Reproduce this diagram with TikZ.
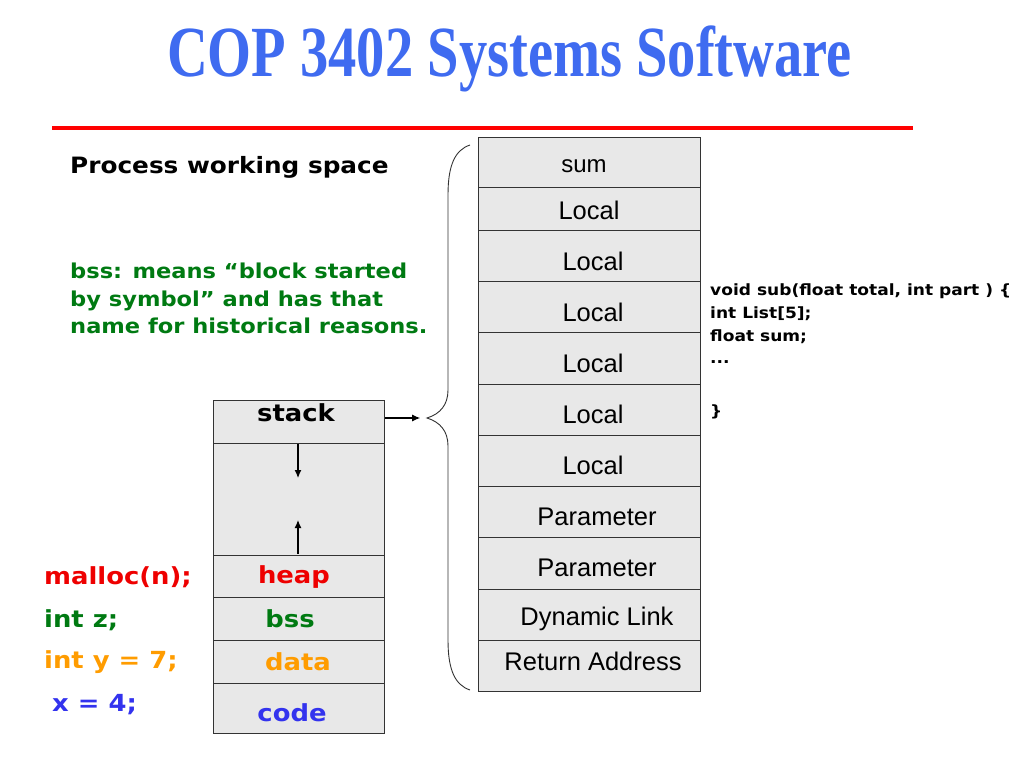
\documentclass[tikz,border=0pt]{standalone}
\usepackage{fontspec}
\usepackage{graphicx}
\newfontfamily\vfont{DejaVu Sans}[FakeStretch=1.1]
\newfontfamily\afont{Liberation Sans}
\newfontfamily\tfont{Liberation Serif}
\definecolor{titleblue}{HTML}{3F6BF0}
\definecolor{cellgray}{HTML}{E8E8E8}
\definecolor{myred}{HTML}{EE0000}
\definecolor{mygreen}{HTML}{007A12}
\definecolor{myorange}{HTML}{FF9C00}
\definecolor{myblue}{HTML}{3333EE}
\definecolor{linegray}{HTML}{333333}
\usetikzlibrary{arrows.meta}
\tikzset{
  lcell/.style={draw=linegray, line width=1.2pt, fill=cellgray, minimum width=171pt, inner sep=0pt, anchor=north west},
  rcell/.style={draw=linegray, line width=1.2pt, fill=cellgray, minimum width=222pt, inner sep=0pt, anchor=north west},
  vtxt/.style={font=\vfont\bfseries\fontsize{23.5}{27}\selectfont, inner sep=0pt},
  atxt/.style={font=\afont\fontsize{25.5}{29}\selectfont, inner sep=0pt, text=black},
  ctxt/.style={font=\vfont\bfseries\fontsize{15.5}{18}\selectfont, inner sep=0pt, anchor=west},
  arr/.style={-{Latex[length=8pt,width=7pt]}, line width=1.2pt},
}
\begin{document}
\begin{tikzpicture}[x=1pt,y=-1pt]
\useasboundingbox (0,0) rectangle (1024,768);
% title
\node[text=titleblue, inner sep=0pt] (title) at (509.5,59) {\resizebox{685pt}{\height}{\tfont\bfseries\fontsize{72}{80}\selectfont COP 3402 Systems Software}};
\coordinate (rl1) at (52,128);
\coordinate (rl2) at (913,128);
\draw[line width=4.5pt, draw=red] (rl1) -- (rl2);
% left heading texts
\node[font=\vfont\bfseries\fontsize{22.5}{26}\selectfont, anchor=west, inner sep=0pt] (pws) at (70,167) {Process working space};
\node[font=\vfont\bfseries\fontsize{20.5}{27.5}\selectfont, anchor=north west, inner sep=0pt, text=mygreen, align=left] (bssnote) at (70,263) {bss: means “block started\\by symbol” and has that\\name for historical reasons.};
% left block
\node[lcell, minimum height=43pt] (stack) at (213,400) {};
\node[lcell, minimum height=112pt] (gap) at (213,443) {};
\node[lcell, minimum height=42pt] (heap) at (213,555) {};
\node[lcell, minimum height=43pt] (bss) at (213,597) {};
\node[lcell, minimum height=43pt] (data) at (213,640) {};
\node[lcell, minimum height=50pt] (code) at (213,683) {};
\node[vtxt] (stackt) at (296,413) {stack};
\node[vtxt, text=myred] (heapt) at (294,577) {heap};
\node[vtxt, text=mygreen] (bsst) at (290,619) {bss};
\node[vtxt, text=myorange] (datat) at (298,662) {data};
\node[vtxt, text=myblue] (codet) at (292,713) {code};
\coordinate (d1) at (298,444);
\coordinate (d2) at (298,478);
\coordinate (u1) at (298,554);
\coordinate (u2) at (298,520);
\draw[arr] (d1) -- (d2);
\draw[arr] (u1) -- (u2);
% left labels
\node[vtxt, anchor=west, text=myred] (mal) at (44,577) {malloc(n);};
\node[vtxt, anchor=west, text=mygreen] (intz) at (44,620) {int z;};
\node[vtxt, anchor=west, text=myorange] (inty) at (44,662) {int y = 7;};
\node[vtxt, anchor=west, text=myblue] (x4) at (52,705) {x = 4;};
% right column
\node[rcell, minimum height=50pt] (r1) at (478,137) {};
\node[rcell, minimum height=43pt] (r2) at (478,187) {};
\node[rcell, minimum height=51pt] (r3) at (478,230) {};
\node[rcell, minimum height=51pt] (r4) at (478,281) {};
\node[rcell, minimum height=52pt] (r5) at (478,332) {};
\node[rcell, minimum height=51pt] (r6) at (478,384) {};
\node[rcell, minimum height=51pt] (r7) at (478,435) {};
\node[rcell, minimum height=51pt] (r8) at (478,486) {};
\node[rcell, minimum height=52pt] (r9) at (478,537) {};
\node[rcell, minimum height=51pt] (r10) at (478,589) {};
\node[rcell, minimum height=51pt] (r11) at (478,640) {};
\node[atxt, font=\afont\fontsize{24}{28}\selectfont] (t1) at (584,166) {sum};
\node[atxt] (t2) at (589,210) {Local};
\node[atxt] (t3) at (593,261) {Local};
\node[atxt] (t4) at (593,312) {Local};
\node[atxt] (t5) at (593,363) {Local};
\node[atxt] (t6) at (593,414) {Local};
\node[atxt] (t7) at (593,465) {Local};
\node[atxt] (t8) at (597,517) {Parameter};
\node[atxt] (t9) at (597,568) {Parameter};
\node[atxt] (t10) at (597,619) {Dynamic Link};
\node[atxt] (t11) at (593,661) {Return Address};
% arrow from stack to brace
\coordinate (bt) at (427,418);
\draw[arr] (stack.east |- 0,418) -- ++(35,0) coordinate (ae);
% brace
\coordinate (btop) at (470,145);
\coordinate (bbot) at (470,690);
\draw[line width=0.9pt, draw=linegray] (btop) .. controls (455,150) and (448,165) .. (448,195)
  -- (448,390) .. controls (448,405) and (440,414) .. (bt)
  .. controls (440,422) and (448,431) .. (448,446)
  -- (448,640) .. controls (448,670) and (455,685) .. (bbot);
% code text
\node[ctxt] (c1) at (710,291) {void sub(float total, int part ) \{};
\node[ctxt] (c2) at (710,314) {int List[5];};
\node[ctxt] (c3) at (710,337) {float sum;};
\node[ctxt] (c4) at (710,362) {...};
\node[ctxt] (c5) at (710,412) {\}};
\end{tikzpicture}
\end{document}
